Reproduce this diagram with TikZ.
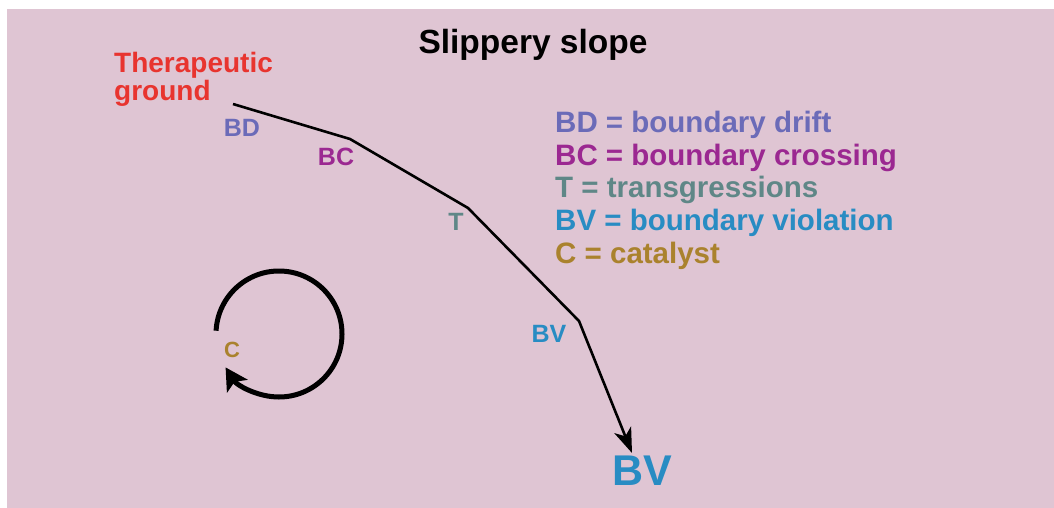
\documentclass[tikz,border=0pt]{standalone}
\usepackage{fontspec}
\setmainfont{Liberation Sans}
\usetikzlibrary{arrows.meta}
\definecolor{slopebg}{RGB}{223,197,211}
\definecolor{tgred}{RGB}{232,52,47}
\definecolor{bdcol}{RGB}{107,107,184}
\definecolor{bccol}{RGB}{155,40,145}
\definecolor{tcol}{RGB}{95,135,135}
\definecolor{bvcol}{RGB}{40,140,195}
\definecolor{ccol}{RGB}{170,130,45}
\newcommand{\fsz}[1]{\fontsize{#1}{#1}\selectfont}
\begin{document}
\begin{tikzpicture}[x=1pt, y=-1pt, font=\bfseries, every node/.style={inner sep=0pt},
    legline/.style={anchor=base west, font=\bfseries\fsz{29.5}},
    marklbl/.style={font=\bfseries\fsz{25}},
    slopeline/.style={line width=2.6pt, -{Stealth[length=25pt, width=18pt, inset=7pt]}},
    cycleline/.style={line width=5pt, line join=round, -{Stealth[length=22pt, width=24pt, inset=5pt]}}]
    \useasboundingbox (0,0) rectangle (1054,508);
    \fill[slopebg] (7,9) rectangle (1054,508);
    % Titel
    \node[font=\bfseries\fsz{33.5}] (title) at (533,45) {Slippery slope};
    \node[anchor=base west, align=left, text=tgred, font=\bfseries\fsz{28}] (ground) at (114,101)
        {Therapeutic\\[0pt]ground};
    % Helling
    \coordinate (p0) at (233,104);
    \coordinate (p1) at (350,139);
    \coordinate (p2) at (468,208);
    \coordinate (p3) at (579,321);
    \coordinate (tip) at (632,453);
    \draw[slopeline] (p0) -- (p1) -- (p2) -- (p3) -- (tip);
    \node[marklbl, text=bdcol] (bd) at (242,128) {BD};
    \node[marklbl, text=bccol] (bc) at (336,157) {BC};
    \node[marklbl, text=tcol] (t) at (456,222) {T};
    \node[marklbl, text=bvcol] (bv) at (549,334) {BV};
    \node[font=\bfseries\fsz{43}, text=bvcol] (bvbig) at (642,471) {BV};
    % Legenda
    \node[legline, text=bdcol] (lbd) at (555,132) {BD = boundary drift};
    \node[legline, text=bccol] (lbc) at (555,165) {BC = boundary crossing};
    \node[legline, text=tcol] (lt) at (555,197) {T = transgressions};
    \node[legline, text=bvcol] (lbv) at (555,230) {BV = boundary violation};
    \node[legline, text=ccol] (lc) at (555,263) {C = catalyst};
    % Katalysator
    \coordinate (cc) at (279,334);
    \draw[cycleline] (cc) ++(183:63) arc[start angle=183, end angle=508, radius=63];
    \node[font=\bfseries\fsz{22}, text=ccol] (c) at (232,350) {C};
\end{tikzpicture}
\end{document}
